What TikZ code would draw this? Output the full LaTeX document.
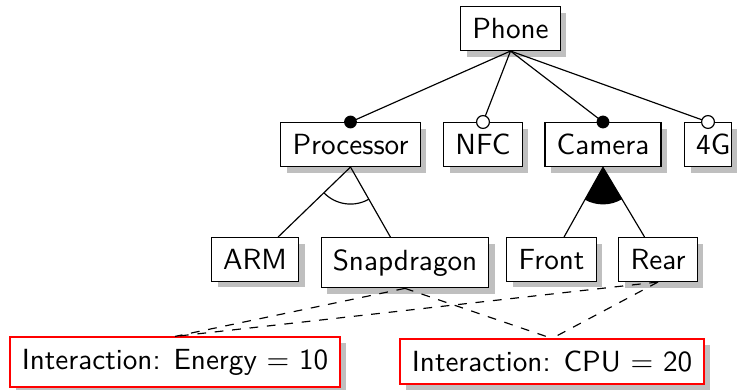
\documentclass[tikz,border=0pt]{standalone}
\usetikzlibrary{shadows,calc}
\begin{document}
\begin{tikzpicture}[x=0.343pt,y=-0.343pt,
  fbox/.style={draw, fill=white, font=\sffamily, inner sep=4pt, line width=0.4pt,
    drop shadow={fill=black!25, opacity=1, shadow xshift=2.1pt, shadow yshift=-2.1pt}},
  ibox/.style={fbox, draw=red, line width=0.55pt},
  conn/.style={line width=0.4pt},
  dconn/.style={conn, dashed},
  mand/.style={fill=black},
  opt/.style={fill=white, draw=black, line width=0.4pt}]
\useasboundingbox (0,0) rectangle (737,390);
% nodes
\node[fbox, anchor=north] (phone) at (510.5,6) {Phone};
\node[fbox, anchor=north] (proc) at (350.5,122) {Processor};
\node[fbox, anchor=north] (nfc) at (483,122) {NFC};
\node[fbox, anchor=north] (cam) at (603,122) {Camera};
\node[fbox, anchor=north west, inner xsep=0pt] (g4) at (684,122) {\hspace*{4pt}4G\hspace*{0.4pt}};
\node[fbox, anchor=north] (arm) at (255,237) {ARM};
\node[fbox, anchor=north] (snap) at (405,237) {Snapdragon};
\node[fbox, anchor=north] (front) at (551.5,237) {Front};
\node[fbox, anchor=north] (rear) at (658,237) {Rear};
\node[ibox] (energy) at (175,362) {Interaction: Energy $=$ 10};
\node[ibox] (cpu) at (552,361.5) {Interaction: CPU $=$ 20};
% tree edges
\draw[conn] (phone.south) -- (proc.north);
\draw[conn] (phone.south) -- (nfc.north);
\draw[conn] (phone.south) -- (cam.north);
\draw[conn] (phone.south) -- (g4.north);
\draw[conn] (proc.south) -- (arm);
\draw[conn] (proc.south) -- (snap);
\draw[conn] (cam.south) -- (front);
\draw[conn] (cam.south) -- (rear);
% group symbols
\draw[conn] let \p1=($(arm)-(proc.south)$), \p2=($(snap)-(proc.south)$),
  \n1={atan2(\y1,\x1)}, \n2={atan2(\y2,\x2)} in
  ($(proc.south)+(\n1:12.7pt)$) arc[start angle=\n1, end angle=\n2, radius=12.7pt];
\fill let \p1=($(front)-(cam.south)$), \p2=($(rear)-(cam.south)$),
  \n1={atan2(\y1,\x1)}, \n2={atan2(\y2,\x2)} in
  (cam.south) -- ($(cam.south)+(\n1:12.7pt)$) arc[start angle=\n1, end angle=\n2, radius=12.7pt] -- cycle;
% feature markers
\fill[mand] (proc.north) circle (2.2pt);
\draw[opt] (nfc.north) circle (2.2pt);
\fill[mand] (cam.north) circle (2.2pt);
\draw[opt] (g4.north) circle (2.2pt);
% interactions
\draw[dconn] (snap.south) -- (energy.north);
\draw[dconn] (snap.south) -- (cpu.north);
\draw[dconn] (rear.south) -- (energy.north);
\draw[dconn] (rear.south) -- (cpu.north);
\end{tikzpicture}
\end{document}
